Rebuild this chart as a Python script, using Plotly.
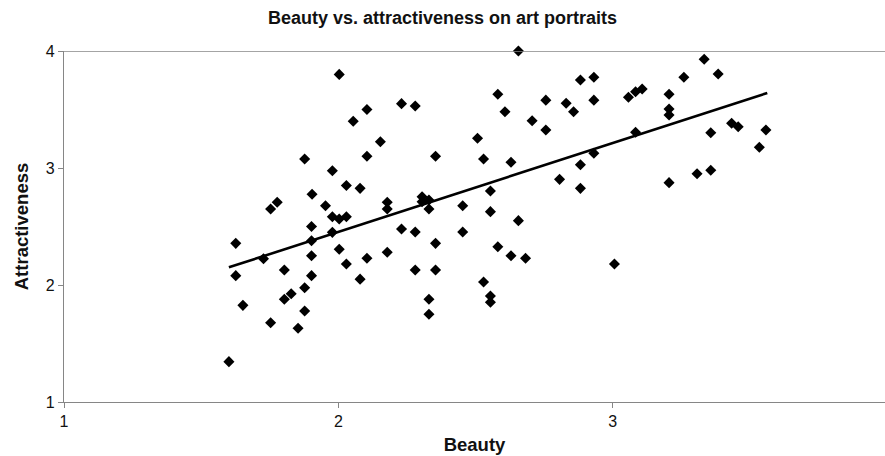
import plotly.graph_objects as go

# Mean ratings per portrait
beauty = [
    2.003, 2.23, 2.28, 2.104, 2.054, 2.153, 1.877, 2.104, 2.354, 1.978,
    2.029, 2.079, 1.904, 1.953, 1.753, 1.777, 2.178, 2.178, 2.305, 2.305,
    2.33, 2.33, 1.978, 2.003, 2.029, 1.902, 1.978, 1.902, 2.23, 2.28,
    1.626, 2.354, 1.727, 1.902, 2.003, 2.029, 2.104, 2.178, 2.079, 1.626,
    1.803, 1.902, 2.28, 2.354, 1.877, 1.803, 1.828, 1.652, 1.877, 2.33,
    2.33, 1.753, 1.853, 1.601, 2.656, 2.882, 2.931, 2.581, 3.259, 3.057,
    3.083, 3.107, 3.205, 3.205, 3.205, 2.607, 2.756, 2.83, 2.857, 2.931,
    2.706, 2.756, 2.507, 3.083, 2.529, 2.629, 2.931, 2.882, 2.806, 2.882,
    3.205, 2.554, 2.453, 2.554, 2.656, 2.453, 2.581, 2.629, 2.682, 3.006,
    2.529, 2.554, 2.554, 3.333, 3.384, 3.433, 3.457, 3.357, 3.558, 3.534,
    3.307, 3.357,
]
attractiveness = [
    3.80, 3.55, 3.53, 3.50, 3.40, 3.225, 3.077, 3.10, 3.10, 2.977,
    2.85, 2.826, 2.775, 2.678, 2.65, 2.707, 2.707, 2.65, 2.755, 2.712,
    2.726, 2.65, 2.584, 2.564, 2.584, 2.50, 2.45, 2.379, 2.479, 2.453,
    2.356, 2.356, 2.225, 2.25, 2.305, 2.18, 2.228, 2.28, 2.05, 2.08,
    2.128, 2.08, 2.128, 2.128, 1.977, 1.878, 1.926, 1.826, 1.778, 1.878,
    1.75, 1.678, 1.63, 1.345, 4.0, 3.752, 3.775, 3.63, 3.775, 3.604,
    3.652, 3.675, 3.63, 3.504, 3.453, 3.48, 3.58, 3.553, 3.481, 3.58,
    3.404, 3.325, 3.254, 3.305, 3.077, 3.049, 3.126, 3.028, 2.903, 2.826,
    2.875, 2.803, 2.678, 2.627, 2.55, 2.453, 2.327, 2.25, 2.228, 2.18,
    2.026, 1.906, 1.852, 3.929, 3.803, 3.382, 3.353, 3.302, 3.325, 3.177,
    2.951, 2.98,
]

# Linear trend endpoints
trend_x = [1.601, 3.563]
trend_y = [2.151, 3.641]

x_ticks = [1, 2, 3, 4]
y_ticks = [1, 2, 3, 4]

FONT = "Liberation Sans, Arial, sans-serif"
AXIS_GRAY = "#868686"
TEXT = "#111111"

fig = go.Figure()

fig.add_trace(go.Scatter(
    x=beauty, y=attractiveness, mode="markers",
    marker=dict(symbol="diamond", size=8.5, color="black", line=dict(width=0)),
    showlegend=False, cliponaxis=False,
))

fig.add_trace(go.Scatter(
    x=trend_x, y=trend_y, mode="lines",
    line=dict(color="black", width=2.6),
    showlegend=False,
))

# Major gridline at the top of the value axis
fig.add_shape(type="line", xref="paper", yref="y", x0=0, x1=1, y0=4, y1=4,
              line=dict(color=AXIS_GRAY, width=1.3))

fig.update_layout(
    width=885, height=456,
    margin=dict(l=64, r=0, t=51, b=54),
    paper_bgcolor="white", plot_bgcolor="white",
    font=dict(family=FONT, color=TEXT, size=16),
    title=dict(
        text="<b>Beauty vs. attractiveness on art portraits</b>",
        x=0.5, xanchor="center", y=1 - 18 / 456, yanchor="middle",
        font=dict(family=FONT, size=18, color=TEXT),
    ),
)

fig.update_xaxes(
    range=[1, 3.992], tickvals=x_ticks, ticktext=[str(v) for v in x_ticks],
    showgrid=False, zeroline=False,
    showline=True, linecolor=AXIS_GRAY, linewidth=1.3,
    ticks="outside", ticklen=5, tickcolor=AXIS_GRAY, tickwidth=1,
    tickfont=dict(family=FONT, size=16, color=TEXT),
    title=dict(text="<b>Beauty</b>", standoff=8,
               font=dict(family=FONT, size=18.5, color=TEXT)),
)

fig.update_yaxes(
    range=[1, 4], tickvals=y_ticks, ticktext=[str(v) for v in y_ticks],
    showgrid=False, zeroline=False,
    showline=True, linecolor=AXIS_GRAY, linewidth=1.3,
    ticks="outside", ticklen=5, tickcolor=AXIS_GRAY, tickwidth=1,
    tickfont=dict(family=FONT, size=16, color=TEXT),
    title=dict(text="<b>Attractiveness</b>", standoff=12,
               font=dict(family=FONT, size=18.5, color=TEXT)),
)

fig.write_html("out.html")
